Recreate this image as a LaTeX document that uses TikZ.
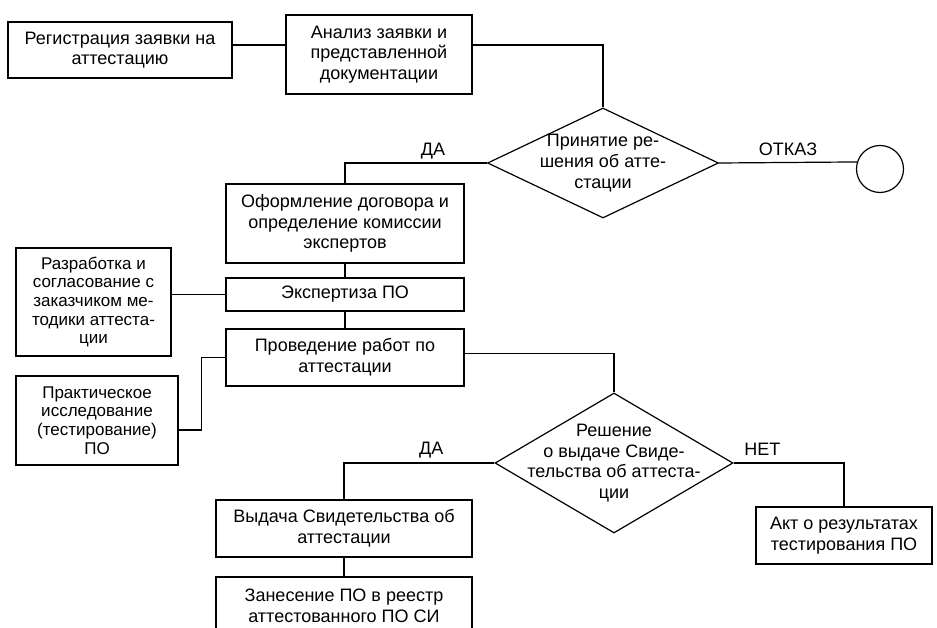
\documentclass[tikz,border=0pt]{standalone}
\usepackage{fontspec}
\setmainfont{Liberation Sans}
\usetikzlibrary{positioning, shapes.geometric}

\begin{document}
\begin{tikzpicture}[x=1pt, y=-1pt, on grid, line width=1.2pt,
    every node/.style={font=\fontsize{18}{20.7}\selectfont},
    process/.style={draw, rectangle, align=center, inner sep=0pt},
    aside/.style={process, font=\fontsize{17}{18.7}\selectfont},
    decision/.style={draw, diamond, inner sep=0pt},
    stop/.style={draw, circle, minimum size=47pt, inner sep=0pt}]
       \useasboundingbox (0,0) rectangle (937,628);

       \node[process, minimum width=224, minimum height=56] (reg) at (120,50) {Регистрация заявки на\\аттестацию};
       \node[process, minimum width=186, minimum height=79] (anal) at (379,54.5) {Анализ заявки и\\представленной\\документации};
       \node[decision, minimum width=231, minimum height=110,
             label={[align=center]center:Принятие ре-\\шения об атте-\\стации}] (d1) at (603,163) {};
       \node[stop] (kr) at (880,169) {};

       \node[process, minimum width=238, minimum height=79] (oform) at (345,223.5) {Оформление договора и\\определение комиссии\\экспертов};
       \node[process, minimum width=238, minimum height=33] (eksp) [below=71pt of oform] {Экспертиза ПО};
       \node[process, minimum width=238, minimum height=57] (prov) [below=63pt of eksp] {Проведение работ по\\аттестации};
       \node[aside, minimum width=155, minimum height=108] (razr) at (93.5,302) {Разработка и\\согласование с\\заказчиком ме-\\тодики аттеста-\\ции};
       \node[aside, minimum width=162, minimum height=89] (prakt) at (97,420.5) {Практическое\\исследование\\(тестирование)\\ПО};

       \node[decision, minimum width=238, minimum height=140,
             label={[align=center]center:Решение\\о выдаче Свиде-\\тельства об аттеста-\\ции}] (d2) at (614,463) {};
       \node[process, minimum width=176, minimum height=57] (akt) at (844,535.5) {Акт о результатах\\тестирования ПО};
       \node[process, minimum width=256, minimum height=57] (vyd) at (344,528.5) {Выдача Свидетельства об\\аттестации};
       \node[process, minimum width=256, minimum height=57] (zan) [below=77pt of vyd] {Занесение ПО в реестр\\аттестованного ПО СИ};

       \draw ([yshift=5pt]reg.east) -- ([yshift=9.5pt]anal.west);
       \draw ([yshift=9.5pt]anal.east) -| (d1.north);
       \draw (d1.west) -| node[above, pos=0.19] {ДА} (oform.north);
       \draw (d1.east) -- node[above=3pt] {ОТКАЗ} (kr.163);
       \draw (oform) -- (eksp);
       \draw (eksp) -- (prov);
       \draw (razr.east |- eksp.west) -- (eksp.west);
       \draw ([yshift=-9.5pt]prakt.east) -- ++(23,0) |- (prov.west);
       \draw ([yshift=4pt]prov.east) -| (d2.north);
       \draw (d2.west) -| node[above=1pt, pos=0.21] {ДА} (vyd.north);
       \draw (d2.east) -| node[above=4pt, pos=0.13] {НЕТ} (akt.north);
       \draw (vyd) -- (zan);
    \end{tikzpicture}
\end{document}
